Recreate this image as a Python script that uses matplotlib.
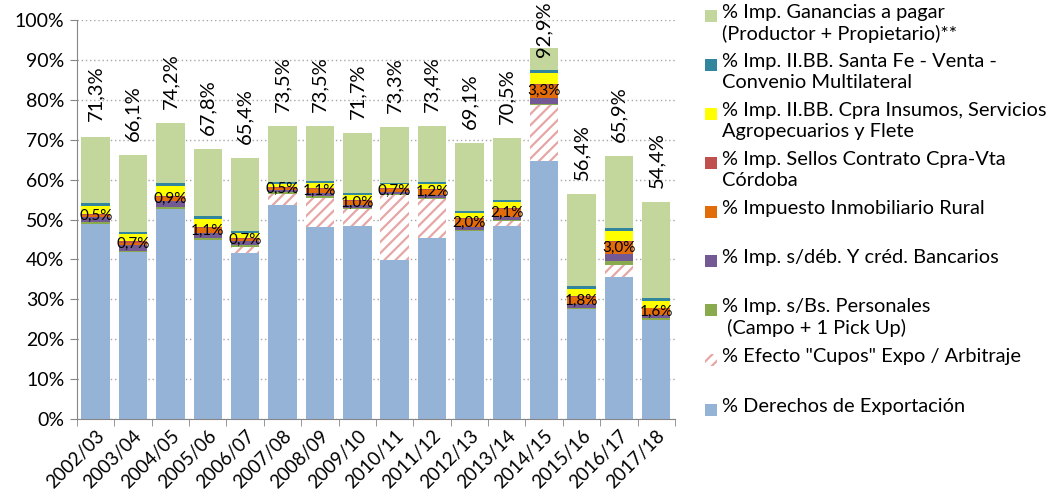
import numpy as np
import matplotlib
matplotlib.use("Agg")
import matplotlib.pyplot as plt
from matplotlib.patches import Rectangle

plt.rcParams['font.family'] = ['Lato', 'DejaVu Sans']
plt.rcParams['hatch.linewidth'] = 1.6

campaigns = ["2002/03", "2003/04", "2004/05", "2005/06", "2006/07", "2007/08",
             "2008/09", "2009/10", "2010/11", "2011/12", "2012/13", "2013/14",
             "2014/15", "2015/16", "2016/17", "2017/18"]

# stacked components, % of gross income
derechos = [49.0, 41.8, 52.6, 44.9, 41.6, 53.7, 48.1, 48.3, 39.9, 45.4, 47.1, 48.4, 64.6, 27.6, 35.6, 24.9]
cupos = [0.0, 0.0, 0.0, 0.0, 1.5, 2.8, 7.4, 4.3, 16.2, 9.8, 0.0, 1.2, 14.2, 0.0, 2.9, 0.0]
bs_personales = [0.5, 0.4, 0.5, 0.5, 0.4, 0.3, 0.3, 0.3, 0.2, 0.2, 0.2, 0.2, 0.2, 0.2, 1.1, 0.3]
deb_cred = [1.2, 1.3, 1.6, 1.3, 1.0, 0.7, 0.8, 0.8, 0.6, 0.8, 0.9, 0.8, 1.5, 1.0, 1.8, 0.9]
inmobiliario = [0.5, 0.7, 0.9, 1.1, 0.7, 0.5, 1.1, 1.0, 0.7, 1.2, 2.0, 2.1, 3.3, 1.8, 3.0, 1.6]
sellos = [0.3, 0.3, 0.3, 0.3, 0.2, 0.2, 0.2, 0.2, 0.2, 0.2, 0.2, 0.2, 0.2, 0.2, 0.2, 0.2]
iibb_insumos = [2.0, 1.8, 2.6, 2.0, 1.2, 0.8, 1.2, 1.3, 1.0, 1.3, 1.2, 1.4, 2.8, 1.8, 2.5, 1.7]
iibb_santafe = [0.6, 0.6, 0.7, 0.7, 0.5, 0.4, 0.5, 0.5, 0.4, 0.5, 0.5, 0.5, 0.7, 0.7, 0.8, 0.7]
ganancias = [16.6, 19.2, 15.0, 17.0, 18.3, 14.1, 13.9, 15.0, 14.1, 14.0, 17.0, 15.7, 5.4, 23.1, 18.0, 24.1]
totales = [71.3, 66.1, 74.2, 67.8, 65.4, 73.5, 73.5, 71.7, 73.3, 73.4, 69.1, 70.5, 92.9, 56.4, 65.9, 54.4]

series = [
    ("% Derechos de Exportación", derechos, "#95B3D7", None),
    ("% Efecto \"Cupos\" Expo / Arbitraje", cupos, "white", "#E6A6A6"),
    ("% Imp. s/Bs. Personales\n (Campo + 1 Pick Up)", bs_personales, "#8AAA4E", None),
    ("% Imp. s/déb. Y créd. Bancarios", deb_cred, "#735A94", None),
    ("% Impuesto Inmobiliario Rural", inmobiliario, "#E36C0A", None),
    ("% Imp. Sellos Contrato Cpra-Vta\nCórdoba", sellos, "#C0504D", None),
    ("% Imp. II.BB. Cpra Insumos, Servicios\nAgropecuarios y Flete", iibb_insumos, "#FFFF00", None),
    ("% Imp. II.BB. Santa Fe - Venta -\nConvenio Multilateral", iibb_santafe, "#31859C", None),
    ("% Imp. Ganancias a pagar\n(Productor + Propietario)**", ganancias, "#C3D69B", None),
]

fig = plt.figure(figsize=(10.52, 5.01), dpi=100)
ax = fig.add_axes([0.0732, 0.1637, 0.5684, 0.7963])

x = np.arange(len(campaigns))
width = 0.76
bottom = np.zeros(len(campaigns))
for name, vals, color, hatch_color in series:
    vals = np.array(vals)
    if hatch_color:
        ax.bar(x, vals, width, bottom=bottom, color=color, edgecolor=hatch_color,
               hatch="///", linewidth=0)
    else:
        ax.bar(x, vals, width, bottom=bottom, color=color, linewidth=0)
    if name == "% Impuesto Inmobiliario Rural":
        for i, v in enumerate(vals):
            ax.text(x[i], bottom[i] + v / 2, f"{v:.1f}%".replace(".", ","),
                    ha="center", va="center", fontsize=11, color="black")
    bottom += vals

# total labels sit above the bar; the tallest one hangs from the top of the canvas
for i, t in enumerate(totales):
    label = f"{t:.1f}%".replace(".", ",")
    if t < 85:
        ax.annotate(label, (x[i], t), xytext=(0, 10), textcoords="offset points",
                    rotation=90, ha="center", va="bottom", fontsize=14.5)
    else:
        ax.annotate(label, (x[i], 1.0), xycoords=("data", "figure fraction"),
                    xytext=(0, -1), textcoords="offset points",
                    rotation=90, ha="center", va="top", fontsize=14.5)

ax.set_xlim(-0.5, len(campaigns) - 0.5)
ax.set_ylim(0, 100)
ax.set_yticks(np.arange(0, 101, 10))
ax.set_yticklabels([f"{v}%" for v in range(0, 101, 10)], fontsize=14)
ax.yaxis.grid(True, linestyle=(0, (1, 2)), color="#A6A6A6", linewidth=1)
ax.set_axisbelow(True)

ax.set_xticks(x)
ax.set_xticklabels(campaigns, rotation=45, ha="right", rotation_mode="anchor", fontsize=13.5)
ax.tick_params(axis="x", length=0, pad=6)
ax.set_xticks(np.arange(-0.5, len(campaigns), 1), minor=True)
ax.tick_params(axis="x", which="minor", length=5, color="#868686")
ax.tick_params(axis="y", length=5, color="#868686", pad=4)

for side in ["top", "right"]:
    ax.spines[side].set_visible(False)
for side in ["left", "bottom"]:
    ax.spines[side].set_color("#868686")

# legend drawn by hand, top entry first
W, H = 1052.0, 501.0
entry_y = [16, 65, 114, 163, 212, 261, 310, 360, 410]
for (name, vals, color, hatch_color), ypx in zip(reversed(series), entry_y):
    sq = 12
    if hatch_color:
        rect = Rectangle((705 / W, 1 - (ypx + sq / 2) / H), sq / W, sq / H,
                         transform=fig.transFigure, facecolor=color, edgecolor=hatch_color,
                         hatch="///", linewidth=0)
    else:
        rect = Rectangle((705 / W, 1 - (ypx + sq / 2) / H), sq / W, sq / H,
                         transform=fig.transFigure, facecolor=color, linewidth=0)
    fig.patches.append(rect)
    fig.text(722 / W, 1 - (ypx - 12) / H, name, ha="left", va="top",
             fontsize=14.4, linespacing=1.28)

fig.savefig("out.png", dpi=100)
